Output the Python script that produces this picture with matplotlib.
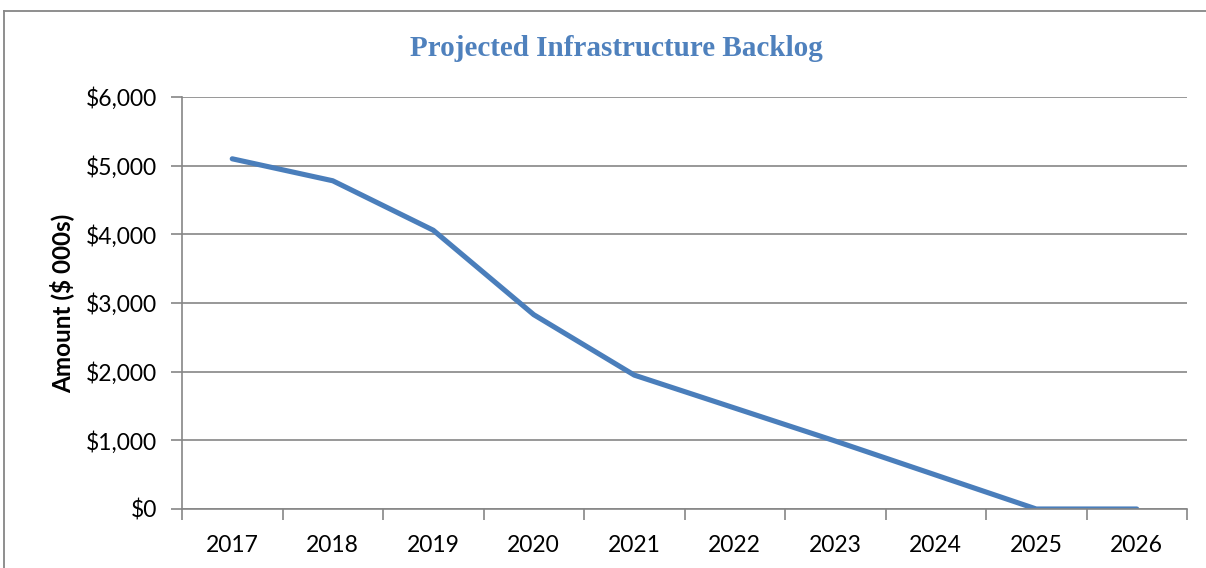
import numpy as np
import matplotlib.pyplot as plt
from matplotlib.lines import Line2D
from matplotlib.ticker import FuncFormatter

plt.rcParams['font.family'] = ['Lato', 'DejaVu Sans']

years = [2017, 2018, 2019, 2020, 2021, 2022, 2023, 2024, 2025, 2026]
backlog = [5100, 4780, 4060, 2830, 1950, 1470, 990, 495, 0, 0]

fig = plt.figure(figsize=(12.06, 5.68), dpi=100)
ax = fig.add_axes([182/1206, 1-509/568, (1187-182)/1206, (509-97)/568])

x = np.arange(len(years))
ax.plot(x, backlog, color='#4A7EBB', linewidth=3.7, solid_capstyle='round', solid_joinstyle='round')

ax.set_xlim(-0.5, len(years)-0.5)
ax.set_ylim(0, 6000)
ax.set_yticks(np.arange(0, 6001, 1000))
ax.yaxis.set_major_formatter(FuncFormatter(lambda v, p: '\\${:,.0f}'.format(v)))
ax.set_xticks(x)
ax.set_xticklabels([str(y) for y in years])
ax.set_xticks(np.arange(-0.5, len(years), 1), minor=True)

ax.grid(axis='y', color='#868686', linewidth=1.2)
ax.set_axisbelow(True)
for s in ['top', 'right']:
    ax.spines[s].set_visible(False)
for s in ['left', 'bottom']:
    ax.spines[s].set_color('#868686')
    ax.spines[s].set_linewidth(1.2)

ax.tick_params(axis='y', length=8, color='#868686', width=1.2, labelsize=16.5, pad=10)
ax.tick_params(axis='x', which='major', length=0, labelsize=16.5, pad=19)
ax.tick_params(axis='x', which='minor', length=8, color='#868686', width=1.2)

ax.set_ylabel('Amount (\\$ 000s)', fontsize=17.5, fontweight='bold', labelpad=8)

fig.text(0.5115, 1-49/568, 'Projected Infrastructure Backlog', ha='center', va='center',
         fontsize=21, fontweight='bold', color='#4F81BD', family=['Liberation Serif', 'DejaVu Serif'])

# chart border
fig.add_artist(Line2D([4/1206, 4/1206], [0, 1-11/568], color='#868686', linewidth=1.3))
fig.add_artist(Line2D([4/1206, 1], [1-11/568, 1-11/568], color='#868686', linewidth=1.3))

fig.savefig('out.png', dpi=100)
